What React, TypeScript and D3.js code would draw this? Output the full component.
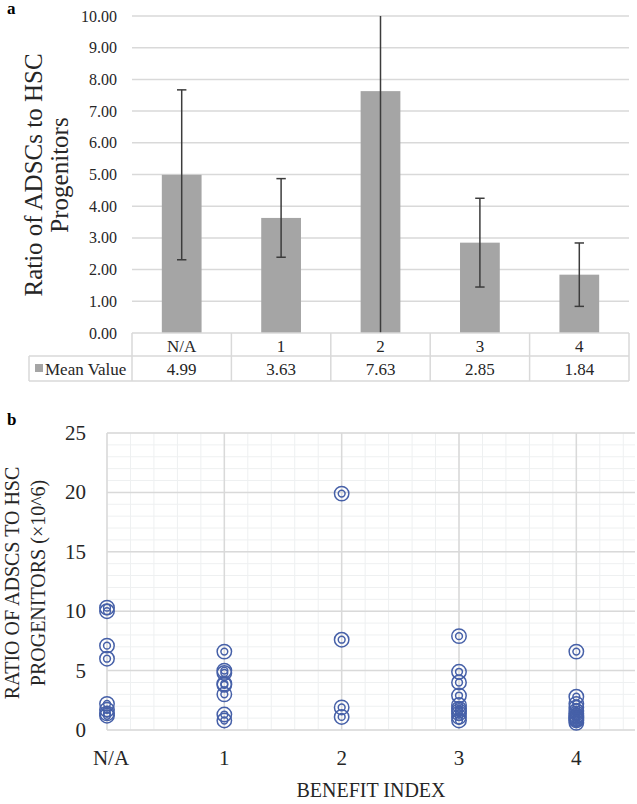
import * as d3 from "d3";

// Panel a: mean ratio per benefit index, with 95% CI error bars
const categories = ["N/A", "1", "2", "3", "4"];
const meanValues = [4.99, 3.63, 7.63, 2.85, 1.84];
const errorValues = [2.68, 1.24, 8.5, 1.4, 1.0];
const barTicks = [0, 1, 2, 3, 4, 5, 6, 7, 8, 9, 10];

// Panel b: individual ratios (x10^6) per benefit index
const pointsNA = [10.3, 10.0, 7.1, 6.0, 2.2, 1.7, 1.4, 1.2];
const points1 = [6.6, 5.0, 4.8, 3.9, 3.8, 3.0, 1.3, 0.8];
const points2 = [19.9, 7.6, 1.9, 1.1];
const points3 = [7.9, 4.9, 4.0, 2.9, 2.1, 1.8, 1.6, 1.4, 1.1, 0.8];
const points4 = [6.6, 2.8, 2.2, 1.9, 1.6, 1.4, 1.2, 1.1, 1.0, 0.9, 0.8, 0.6];
const scatterSeries = [pointsNA, points1, points2, points3, points4];
const scatterTicks = [0, 5, 10, 15, 20, 25];

const W = 637;
const H = 804;
const FONT = "Liberation Serif, DejaVu Serif, serif";
const GRID = "#d9d9d9";
const MINOR = "#eef0f1";
const BAR = "#a5a5a5";
const DOT = "#4660a8";

export default function App() {
  // ---- panel a scales
  const xA = d3.scaleBand<string>().domain(categories).range([132, 629]).padding(0);
  const yA = d3.scaleLinear().domain([0, 10]).range([333, 16]);
  const bw = xA.bandwidth() * 0.4;
  const tableTop = 333;
  const rowMid = 356;
  const tableBottom = 381;
  const tableLeft = 29;

  // ---- panel b scales
  const xB = d3.scaleLinear().domain([0, 4.5]).range([107, 635]);
  const yB = d3.scaleLinear().domain([0, 25]).range([730, 433]);
  const minorX = d3.range(0, 4.41, 0.2);
  const minorY = d3.range(0, 25.1, 1);

  return (
    <>
      <style>{`body{margin:0;background:#fff}`}</style>
      <svg width={W} height={H} fontFamily={FONT} style={{ display: "block" }}>
        <rect width={W} height={H} fill="#fff" />

        {/* ===== panel a ===== */}
        <text x={7} y={14} fontSize={17} fontWeight="bold" fill="#000">a</text>

        {barTicks.map((t) => (
          <g key={`ga${t}`}>
            {t > 0 && (
              <line x1={132} x2={629} y1={yA(t)} y2={yA(t)} stroke={GRID} strokeWidth={1.5} />
            )}
            <text x={117} y={yA(t) + 5.5} fontSize={16} textAnchor="end" fill="#262626">
              {t.toFixed(2)}
            </text>
          </g>
        ))}

        {categories.map((c, i) => (
          <rect
            key={`bar${c}`}
            x={(xA(c) ?? 0) + (xA.bandwidth() - bw) / 2}
            y={yA(meanValues[i])}
            width={bw}
            height={yA(0) - yA(meanValues[i])}
            fill={BAR}
          />
        ))}

        {categories.map((c, i) => {
          const cx = (xA(c) ?? 0) + xA.bandwidth() / 2;
          const hi = meanValues[i] + errorValues[i];
          const lo = meanValues[i] - errorValues[i];
          const yHi = yA(Math.min(hi, 10));
          const yLo = yA(Math.max(lo, 0));
          return (
            <g key={`err${c}`} stroke="#3c3c3c" strokeWidth={1.5}>
              <line x1={cx} x2={cx} y1={yHi} y2={yLo} />
              {hi <= 10 && <line x1={cx - 4.7} x2={cx + 4.7} y1={yHi} y2={yHi} />}
              {lo >= 0 && <line x1={cx - 4.7} x2={cx + 4.7} y1={yLo} y2={yLo} />}
            </g>
          );
        })}

        {/* data table */}
        <g stroke={GRID} strokeWidth={1.5}>
          <line x1={132} x2={629} y1={tableTop} y2={tableTop} />
          <line x1={tableLeft} x2={629} y1={rowMid} y2={rowMid} />
          <line x1={tableLeft} x2={629} y1={tableBottom} y2={tableBottom} />
          <line x1={tableLeft} x2={tableLeft} y1={rowMid} y2={tableBottom} />
          {categories.map((c) => (
            <line key={`tv${c}`} x1={xA(c)} x2={xA(c)} y1={tableTop} y2={tableBottom} />
          ))}
          <line x1={629} x2={629} y1={tableTop} y2={tableBottom} />
        </g>
        {categories.map((c, i) => {
          const cx = (xA(c) ?? 0) + xA.bandwidth() / 2;
          return (
            <g key={`tt${c}`} fontSize={17} textAnchor="middle" fill="#262626">
              <text x={cx} y={351.5}>{c}</text>
              <text x={cx} y={375}>{meanValues[i].toFixed(2)}</text>
            </g>
          );
        })}
        <rect x={35} y={364} width={8} height={8} fill={BAR} />
        <text x={45} y={375} fontSize={17} fill="#262626">Mean Value</text>

        <text
          transform={`translate(42,175) rotate(-90)`}
          textAnchor="middle"
          fontSize={25}
          fill="#262626"
        >
          Ratio of ADSCs to HSC
        </text>
        <text
          transform={`translate(68,175) rotate(-90)`}
          textAnchor="middle"
          fontSize={25}
          fill="#262626"
        >
          Progenitors
        </text>

        {/* ===== panel b ===== */}
        <text x={7} y={425} fontSize={17} fontWeight="bold" fill="#000">b</text>

        {minorX.map((v) => (
          <line key={`mx${v}`} x1={xB(v)} x2={xB(v)} y1={yB(25)} y2={yB(0)} stroke={MINOR} strokeWidth={1} />
        ))}
        {minorY.map((v) => (
          <line key={`my${v}`} x1={xB(0)} x2={635} y1={yB(v)} y2={yB(v)} stroke={MINOR} strokeWidth={1} />
        ))}
        {scatterTicks.map((t) => (
          <line key={`My${t}`} x1={xB(0)} x2={635} y1={yB(t)} y2={yB(t)} stroke={GRID} strokeWidth={1.5} />
        ))}
        {categories.map((c, i) => (
          <line key={`Mx${c}`} x1={xB(i)} x2={xB(i)} y1={yB(25)} y2={yB(0)} stroke={GRID} strokeWidth={1.5} />
        ))}

        {scatterTicks.map((t) => (
          <text key={`ty${t}`} x={86} y={yB(t) + 7} fontSize={21} textAnchor="end" fill="#262626">
            {t}
          </text>
        ))}
        {categories.map((c, i) => (
          <text key={`tx${c}`} x={xB(i) + (c === "N/A" ? 4 : 0)} y={765} fontSize={21} textAnchor="middle" fill="#262626">
            {c}
          </text>
        ))}

        {scatterSeries.map((vals, i) =>
          vals.map((v, j) => (
            <g key={`p${i}-${j}`} fill="none" stroke={DOT} strokeWidth={1.5}>
              <circle cx={xB(i)} cy={yB(v)} r={7.2} />
              <circle cx={xB(i)} cy={yB(v)} r={3.4} />
            </g>
          ))
        )}

        <text x={371} y={797} fontSize={20} textAnchor="middle" fill="#262626">
          BENEFIT INDEX
        </text>
        <text
          transform={`translate(18.5,583) rotate(-90)`}
          textAnchor="middle"
          fontSize={20}
          fill="#262626"
        >
          RATIO OF ADSCS TO HSC
        </text>
        <text
          transform={`translate(44.5,583) rotate(-90)`}
          textAnchor="middle"
          fontSize={20}
          fill="#262626"
        >
          PROGENITORS (×10^6)
        </text>
      </svg>
    </>
  );
}
